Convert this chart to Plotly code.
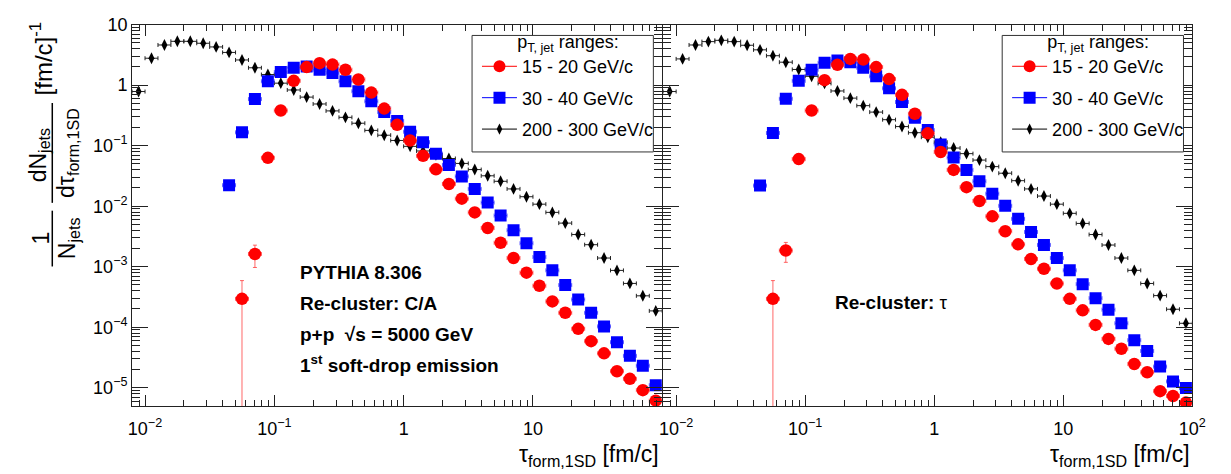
import plotly.graph_objects as go

W, H = 1231, 474

# bin centres of tau_form,1SD [fm/c] (log bins, 10 per decade)
tau = [0.008913, 0.01122, 0.01413, 0.01778, 0.02239, 0.02818, 0.03548, 0.04467, 0.05623, 0.07079,
       0.08913, 0.1122, 0.1413, 0.1778, 0.2239, 0.2818, 0.3548, 0.4467, 0.5623, 0.7079,
       0.8913, 1.122, 1.413, 1.778, 2.239, 2.818, 3.548, 4.467, 5.623, 7.079,
       8.913, 11.22, 14.13, 17.78, 22.39, 28.18, 35.48, 44.67, 56.23, 70.79, 89.13]

N = None
# ---- Re-cluster: C/A (left panel)
ca_15_20 = [N, N, N, N, N, N, N, N, 2.94e-4, 1.62e-3,
            0.063, 0.381, 1.18, 1.99, 2.31, 2.19, 1.80, 1.24, 0.755, 0.411,
            0.221, 0.122, 0.0679, 0.0407, 0.0233, 0.01333, 0.0079, 0.00436, 0.00249, 0.00139,
            7.96e-4, 4.84e-4, 2.67e-4, 1.73e-4, 9.4e-5, 5.87e-5, 3.70e-5, 1.87e-5, 1.40e-5, 9.1e-6, 6.1e-6]
ca_15_20_err = [0, 0, 0, 0, 0, 0, 0, 0, 2.95e-4, 6.5e-4] + [0] * 31
ca_30_40 = [N, N, N, N, N, N, N, 0.0222, 0.166, 0.589,
            1.16, 1.65, 1.94, 2.04, 1.80, 1.59, 1.16, 0.794, 0.541, 0.359,
            0.257, 0.170, 0.114, 0.0739, 0.048, 0.031, 0.0193, 0.01148, 0.0070, 0.0040,
            0.00244, 1.445e-3, 8.7e-4, 4.97e-4, 2.87e-4, 1.73e-4, 1.03e-4, 5.65e-5, 3.36e-5, 2.31e-5, 1.10e-5]
ca_200_300 = [0.785, 2.79, 4.62, 5.31, 5.31, 4.93, 4.29, 3.48, 2.61, 1.94,
              1.50, 1.08, 0.833, 0.635, 0.489, 0.376, 0.294, 0.235, 0.179, 0.149,
              0.122, 0.0975, 0.0818, 0.0705, 0.0614, 0.0509, 0.0403, 0.0318, 0.0258, 0.0193,
              0.01435, 0.0108, 0.0079, 0.00525, 0.0034, 0.00231, 0.00139, 8.68e-4, 5.29e-4, 3.30e-4, 1.86e-4]

# ---- Re-cluster: tau (right panel)
tau_15_20 = [N, N, N, N, N, N, N, N, 2.94e-4, 1.85e-3,
             0.060, 0.381, 1.21, 2.17, 2.72, 2.65, 1.99, 1.26, 0.692, 0.337,
             0.160, 0.0787, 0.0398, 0.0206, 0.0122, 0.0068, 0.00385, 0.00234, 1.34e-3, 9.25e-4,
             5.28e-4, 2.94e-4, 1.90e-4, 1.09e-4, 6.4e-5, 4.41e-5, 2.46e-5, 1.80e-5, 8.77e-6, 7.28e-6, 5.68e-6]
tau_15_20_err = [0, 0, 0, 0, 0, 0, 0, 0, 2.95e-4, 6.7e-4] + [0] * 31
tau_30_40 = [N, N, N, N, N, N, N, 0.0219, 0.162, 0.596,
             1.18, 1.80, 2.34, 2.55, 2.40, 1.94, 1.40, 0.887, 0.527, 0.290,
             0.181, 0.105, 0.0637, 0.0398, 0.0258, 0.0161, 0.01014, 0.00618, 0.00375, 0.00229,
             0.00139, 8.7e-4, 5.15e-4, 3.02e-4, 1.95e-4, 1.16e-4, 6.1e-5, 4.04e-5, 2.23e-5, 1.27e-5, 9.9e-6]
tau_200_300 = [0.785, 2.72, 4.62, 5.25, 5.51, 5.25, 4.57, 3.84, 3.07, 2.40,
               1.82, 1.40, 1.07, 0.803, 0.611, 0.459, 0.359, 0.269, 0.207, 0.164,
               0.138, 0.114, 0.0914, 0.0739, 0.0578, 0.0451, 0.0351, 0.0264, 0.0193, 0.0147,
               0.0108, 0.00762, 0.00519, 0.0034, 0.00228, 0.00139, 8.7e-4, 5.28e-4, 3.33e-4, 1.98e-4, 1.16e-4]

series_names = ["15 - 20 GeV/c", "30 - 40 GeV/c", "200 - 300 GeV/c"]

x_tickvals_left = [0.01, 0.1, 1, 10]
x_ticktext_left = ["10<sup>−2</sup>", "10<sup>−1</sup>", "1", "10"]
x_tickvals_right = [0.01, 0.1, 1, 10, 100]
x_ticktext_right = ["10<sup>−2</sup>", "10<sup>−1</sup>", "1", "10", "10<sup>2</sup>"]
y_tickvals = [1e-5, 1e-4, 1e-3, 1e-2, 1e-1, 1, 10]
y_ticktext = ["10<sup>−5</sup>", "10<sup>−4</sup>", "10<sup>−3</sup>", "10<sup>−2</sup>",
              "10<sup>−1</sup>", "1", "10"]

FONT = "Liberation Sans, Arial, Helvetica, sans-serif"
RED, BLUE, BLACK = "#ff0000", "#0000ff", "#000000"

# horizontal error bars: half bin widths (bins of 0.1 decade)
xe_minus = [c * (1 - 10 ** -0.05) for c in tau]
xe_plus = [c * (10 ** 0.05 - 1) for c in tau]

minor_x = [m * 10 ** e for e in range(-3, 3) for m in range(2, 10)]
minor_y = [m * 10 ** e for e in range(-6, 2) for m in range(2, 10)]

fig = go.Figure()


def add_series(y, color, symbol, size, xa, ya, err=None, ecol=None):
    kw = {}
    if err is not None:
        kw["error_y"] = dict(type="data", array=err, visible=True, color=ecol, thickness=1, width=2)
    fig.add_trace(go.Scatter(
        x=tau, y=y, mode="markers", xaxis=xa, yaxis=ya, showlegend=False,
        marker=dict(color=color, symbol=symbol, size=size, line=dict(width=0)),
        error_x=dict(type="data", symmetric=False, array=xe_plus, arrayminus=xe_minus,
                     visible=True, color=ecol, thickness=1, width=2),
        **kw))


panels = [("x", "y", ca_15_20, ca_15_20_err, ca_30_40, ca_200_300, "legend"),
          ("x2", "y2", tau_15_20, tau_15_20_err, tau_30_40, tau_200_300, "legend2")]

for xa, ya, r, rerr, b, k, lg in panels:
    add_series(k, BLACK, "diamond-tall", 8.5, xa, ya, ecol="#222222")
    add_series(b, BLUE, "square", 12, xa, ya, ecol="rgba(40,40,255,0.7)")
    add_series(r, RED, "circle", 12.5, xa, ya, err=rerr, ecol="rgba(255,40,40,0.7)")
    # legend entries
    for i, (name, col, sym, sz) in enumerate(zip(series_names, [RED, BLUE, BLACK],
                                                  ["circle", "square", "diamond-tall"], [12, 12, 8])):
        fig.add_trace(go.Scatter(
            x=[None], y=[None], mode="lines+markers", name=name, xaxis=xa, yaxis=ya,
            legend=lg, legendgroup=f"{lg}{i}", legendrank=i + 1,
            line=dict(color=col, width=1), marker=dict(color=col, symbol=sym, size=sz)))


def px2x(p):
    return p / W


def px2y(p):
    return 1 - p / H


ydom = [px2y(405), px2y(15)]
axis_common = dict(type="log", showline=True, linecolor="#222", linewidth=1, mirror="allticks",
                   ticks="inside", tickcolor="#222", showgrid=False, zeroline=False,
                   tickfont=dict(family=FONT, size=18, color="black"), tickmode="array")
minor_common = dict(tickmode="array", ticks="inside", tickcolor="#222")

fig.update_layout(
    width=W, height=H, margin=dict(l=0, r=0, t=0, b=0),
    paper_bgcolor="white", plot_bgcolor="white",
    font=dict(family=FONT, color="black"),
    xaxis=dict(domain=[px2x(130), px2x(668)], range=[-2.1, 2.0], anchor="y",
               tickvals=x_tickvals_left, ticktext=x_ticktext_left, ticklen=11, ticklabelstandoff=6,
               minor=dict(tickvals=minor_x, ticklen=6, **minor_common), **axis_common),
    xaxis2=dict(domain=[px2x(669), px2x(1206)], range=[-2.1, 2.0], anchor="y2",
                tickvals=x_tickvals_right, ticktext=x_ticktext_right, ticklen=11, ticklabelstandoff=6,
                minor=dict(tickvals=minor_x, ticklen=6, **minor_common), **axis_common),
    yaxis=dict(domain=ydom, range=[-5.31, 1.0], anchor="x",
               tickvals=y_tickvals, ticktext=y_ticktext, ticklen=16,
               minor=dict(tickvals=minor_y, ticklen=8, **minor_common), **axis_common),
    yaxis2=dict(domain=ydom, range=[-5.31, 1.0], anchor="x2", showticklabels=False,
                tickvals=y_tickvals, ticktext=y_ticktext, ticklen=16,
                minor=dict(tickvals=minor_y, ticklen=8, **minor_common), **axis_common),
)

leg_common = dict(xanchor="left", yanchor="top", bgcolor="rgba(0,0,0,0)", borderwidth=0,
                  font=dict(family=FONT, size=18, color="black"), itemwidth=35,
                  tracegroupgap=5, traceorder="grouped",
                  title=dict(text="p<sub>T, jet</sub> ranges:", side="top center",
                             font=dict(family=FONT, size=18, color="black")))
fig.update_layout(legend=dict(x=px2x(480), y=px2y(15), **leg_common),
                  legend2=dict(x=px2x(1018), y=px2y(15), **leg_common))

ann = []
# x titles
for xr in (667, 1206):
    ann.append(dict(text="τ<sub>form,1SD</sub> [fm/c]", x=px2x(xr), y=px2y(455), xref="paper", yref="paper",
                    xanchor="right", yanchor="middle", showarrow=False,
                    font=dict(family=FONT, size=23, color="black")))
# y title pieces (rotated)
ytitle = [("[fm/c]<sup>-1</sup>", 38, 49, 24), ("dN<sub>jets</sub>", 36, 148, 23),
          ("dτ<sub>form,1SD</sub>", 65, 146, 23), ("1", 38, 233, 23), ("N<sub>jets</sub>", 65, 233, 23)]
for t, xx, yy, fs in ytitle:
    ann.append(dict(text=t, x=px2x(xx), y=px2y(yy), xref="paper", yref="paper", textangle=-90,
                    xanchor="center", yanchor="middle", showarrow=False,
                    font=dict(family=FONT, size=fs, color="black")))
# physics labels
labels = ["<b>PYTHIA 8.306</b>", "<b>Re-cluster: C/A</b>", "<b>p+p  √s = 5000 GeV</b>",
          "<b>1<sup>st</sup> soft-drop emission</b>"]
for t, yy in zip(labels, [268, 300, 331, 362]):
    ann.append(dict(text=t, x=px2x(298), y=px2y(yy), xref="paper", yref="paper", xanchor="left",
                    yanchor="middle", showarrow=False, font=dict(family=FONT, size=19, color="black")))
ann.append(dict(text="<b>Re-cluster:</b> τ", x=px2x(841), y=px2y(299), xref="paper", yref="paper",
                xanchor="left", yanchor="middle", showarrow=False,
                font=dict(family=FONT, size=19, color="black")))
fig.update_layout(annotations=ann)

shapes = [
    # fraction bars of the y title
    dict(type="line", xref="paper", yref="paper", x0=px2x(49), x1=px2x(49), y0=px2y(95), y1=px2y(197),
         line=dict(color="black", width=1.5)),
    dict(type="line", xref="paper", yref="paper", x0=px2x(49), x1=px2x(49), y0=px2y(205), y1=px2y(262),
         line=dict(color="black", width=1.5)),
    # legend frames
    dict(type="rect", xref="paper", yref="paper", x0=px2x(475), x1=px2x(659), y0=px2y(145), y1=px2y(26),
         fillcolor="white", line=dict(color="#333", width=1), layer="above"),
    dict(type="rect", xref="paper", yref="paper", x0=px2x(1013), x1=px2x(1197), y0=px2y(145), y1=px2y(26),
         fillcolor="white", line=dict(color="#333", width=1), layer="above"),
]
fig.update_layout(shapes=shapes)

fig.write_html("out.html")
